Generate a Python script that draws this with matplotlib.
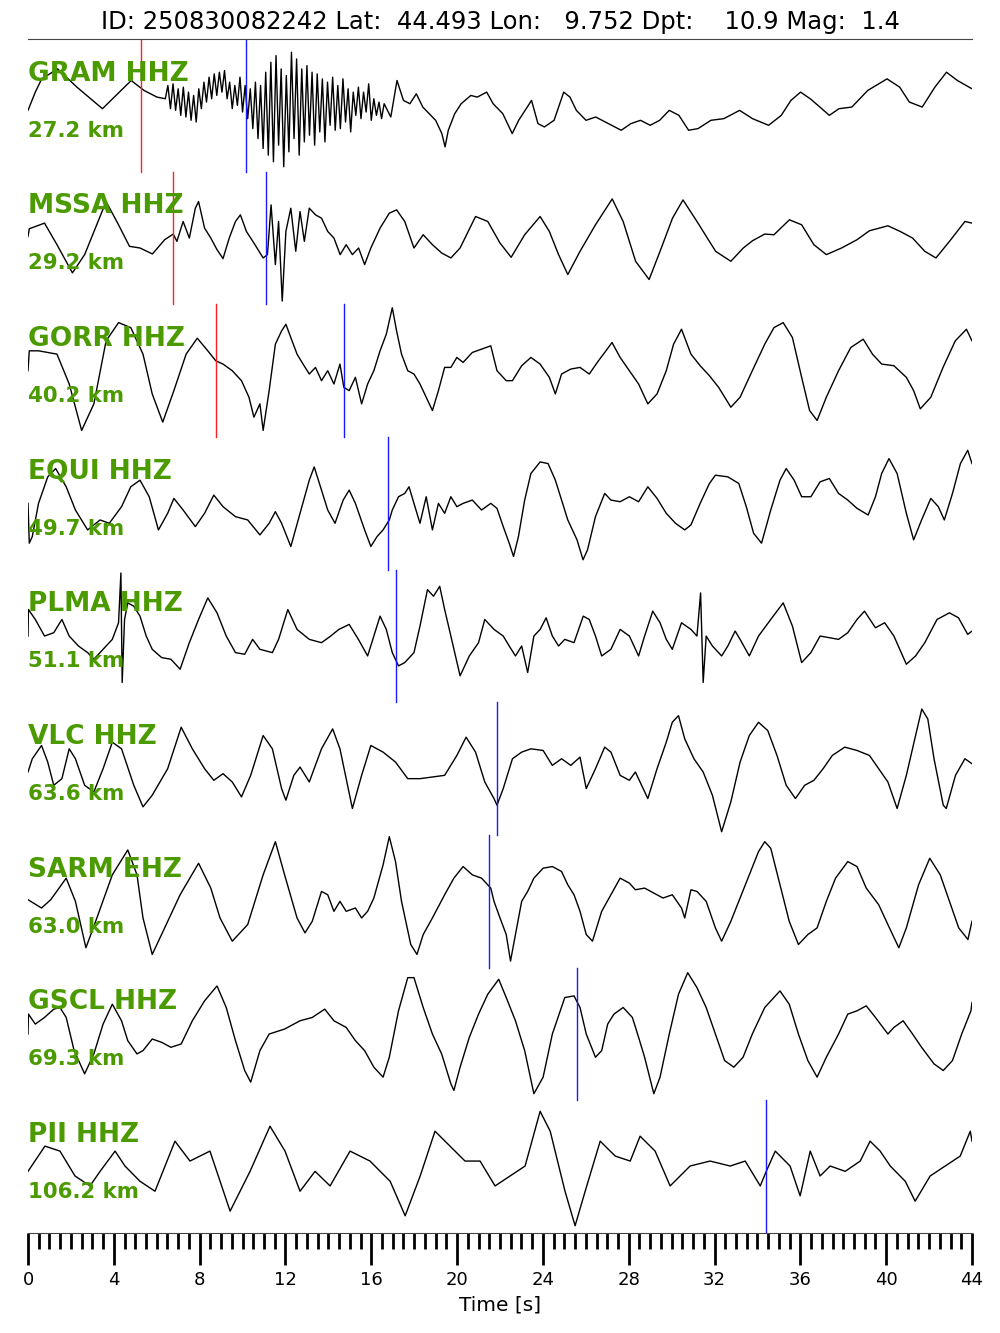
import numpy as np
import matplotlib.pyplot as plt

# event header
event_id = "250830082242"
lat, lon, depth, mag = 44.493, 9.752, 10.9, 1.4

stations = ["GRAM HHZ", "MSSA HHZ", "GORR HHZ", "EQUI HHZ", "PLMA HHZ",
            "VLC HHZ", "SARM EHZ", "GSCL HHZ", "PII HHZ"]
distances = [27.2, 29.2, 40.2, 49.7, 51.1, 63.6, 63.0, 69.3, 106.2]
p_picks = [5.27, 6.77, 8.75, None, None, None, None, None, None]
s_picks = [10.16, 11.07, 14.72, 16.80, 17.17, 21.87, 21.48, 25.60, 34.41]

# traces: (time [s], amplitude [scaled counts])
gram = [(0, -15), (0.34, 40), (0.64, 80), (1.38, 110), (2.28, 55), (3.47, -10),
        (4.81, 75), (5.41, 45), (6.01, 25), (6.40, 20), (6.52, 60), (6.64, -10),
        (6.76, 65), (6.88, -15), (7.00, 50), (7.12, -30), (7.24, 55), (7.36, -35),
        (7.48, 40), (7.60, -45), (7.72, 30), (7.84, -50), (7.96, 50), (8.08, -10),
        (8.20, 70), (8.32, 10), (8.44, 85), (8.56, 20), (8.68, 95), (8.80, 30),
        (8.92, 100), (9.04, 40), (9.16, 105), (9.28, 20), (9.40, 70), (9.52, -10),
        (9.64, 60), (9.76, 0), (9.88, 85), (10.00, -20), (10.12, 60), (10.24, -40),
        (10.36, 50), (10.48, -70), (10.60, 70), (10.72, -100), (10.84, 60),
        (10.96, -130), (11.08, 100), (11.20, -150), (11.32, 130), (11.44, -170),
        (11.56, 150), (11.68, -120), (11.80, 110), (11.92, -185), (12.04, 90),
        (12.16, -140), (12.28, 160), (12.40, -100), (12.52, 140), (12.64, -150),
        (12.76, 110), (12.88, -110), (13.00, 120), (13.12, -90), (13.24, 100),
        (13.36, -120), (13.48, 95), (13.60, -80), (13.72, 80), (13.84, -110),
        (13.96, 70), (14.08, -60), (14.20, 85), (14.32, -75), (14.44, 60),
        (14.56, -70), (14.68, 80), (14.80, -50), (14.92, 50), (15.04, -80),
        (15.16, 40), (15.28, -30), (15.40, 55), (15.52, -40), (15.64, 40),
        (15.76, -20), (15.88, 65), (16.00, -45), (16.12, 20), (16.24, -30),
        (16.36, 10), (16.48, -40), (16.60, 5), (16.91, -35),
        (17.20, 75), (17.50, 15), (17.80, 5), (18.10, 35), (18.40, -5),
        (18.70, -25), (19.00, -45), (19.29, -85), (19.44, -125), (19.59, -75),
        (19.89, -25), (20.19, 5), (20.64, 30), (20.94, 25), (21.38, 40),
        (21.68, 5), (22.13, -25), (22.57, -85), (22.87, -45), (23.17, -15),
        (23.47, 15), (23.77, -55), (24.07, -65), (24.52, -45), (24.97, 40),
        (25.26, 25), (25.56, -15), (26.01, -45), (26.46, -35), (27.05, -55),
        (27.65, -75), (28.10, -55), (28.55, -45), (29.00, -60), (29.44, -45),
        (29.89, -15), (30.34, -30), (30.79, -75), (31.23, -70), (31.83, -45),
        (32.43, -40), (33.17, -15), (33.77, -40), (34.52, -60), (35.11, -30),
        (35.56, 15), (36.01, 40), (36.46, 20), (36.91, -5), (37.35, -30),
        (37.80, -10), (38.40, -5), (39.14, 45), (40.04, 80), (40.63, 55),
        (41.08, 10), (41.68, -5), (42.27, 55), (42.81, 100), (43.32, 75), (44.0, 50)]

mssa = [(0, 5), (0.06, 28), (0.77, 45), (1.35, -20), (2.07, -105), (2.64, -50),
        (3.64, 110), (4.22, 40), (4.73, -25), (5.22, -30), (5.80, -48), (6.37, -5),
        (6.77, 12), (6.94, -10), (7.23, 50), (7.52, 0), (7.80, 90), (7.95, 110),
        (8.23, 30), (8.52, 0), (8.81, -35), (9.09, -62), (9.38, 0), (9.67, 50),
        (9.90, 70), (10.18, 20), (10.53, -15), (10.96, -60), (11.16, -50),
        (11.33, 100), (11.53, -80), (11.68, 50), (11.85, -190), (12.02, 20),
        (12.25, 90), (12.48, -40), (12.68, 80), (12.88, -10), (13.11, 90),
        (13.40, 70), (13.68, 60), (13.97, 20), (14.26, 0), (14.55, -50),
        (14.83, -20), (15.12, -50), (15.41, -30), (15.69, -80), (15.98, -30),
        (16.41, 30), (16.84, 75), (17.18, 85), (17.56, 50), (17.99, -30),
        (18.42, 10), (18.85, -20), (19.28, -45), (19.71, -60), (20.14, -30),
        (20.86, 65), (21.43, 50), (22.00, -15), (22.52, -58), (23.15, 10),
        (23.87, 65), (24.30, 20), (24.73, -50), (25.16, -110), (25.73, -40),
        (26.45, 40), (27.23, 118), (27.74, 50), (28.32, -70), (28.95, -125),
        (29.46, -40), (30.04, 60), (30.53, 115), (31.18, 50), (32.05, -40),
        (32.76, -70), (33.34, -30), (33.77, -8), (34.34, 12), (34.77, 10),
        (35.49, 55), (36.06, 40), (36.63, -20), (37.21, -50), (37.92, -30),
        (38.64, -5), (39.22, 22), (40.08, 37), (40.65, 20), (41.23, 0),
        (41.80, -40), (42.32, -60), (42.95, -10), (43.67, 50), (44.0, 45)]

gorr = [(0, 0), (0.06, 60), (0.49, 60), (0.92, 55), (1.35, 50), (1.92, -40),
        (2.50, -180), (3.07, -100), (3.64, 90), (4.22, 145), (4.79, 130),
        (5.36, 50), (5.79, -70), (6.28, -155), (6.80, -60), (7.37, 50), (7.89, 98),
        (8.38, 60), (8.75, 30), (9.09, 20), (9.52, 0), (9.95, -30), (10.30, -80),
        (10.53, -140), (10.81, -100), (10.96, -180), (11.24, -60), (11.53, 80),
        (11.82, 120), (12.02, 140), (12.25, 100), (12.54, 50), (12.82, 20),
        (13.11, -10), (13.40, 10), (13.68, -30), (13.97, 0), (14.26, -40),
        (14.54, 20), (14.72, -50), (14.97, -60), (15.26, -20), (15.55, -100),
        (15.83, -40), (16.12, 0), (16.41, 60), (16.70, 110), (16.98, 190),
        (17.18, 120), (17.41, 50), (17.70, 0), (17.99, -10), (18.27, -40),
        (18.56, -80), (18.85, -120), (19.13, -60), (19.42, 10), (19.71, 10),
        (19.99, 40), (20.28, 25), (20.71, 55), (21.14, 65), (21.57, 75),
        (21.86, 0), (22.29, -30), (22.58, -30), (23.01, 15), (23.44, 40),
        (23.87, 20), (24.30, -20), (24.58, -70), (24.87, -10), (25.30, 5),
        (25.73, 10), (26.16, -10), (26.59, 30), (26.88, 55), (27.22, 85),
        (27.60, 40), (28.03, 0), (28.46, -40), (28.89, -100), (29.32, -70),
        (29.75, 0), (30.09, 80), (30.46, 125), (30.90, 50), (31.33, 15),
        (31.76, -15), (32.19, -50), (32.76, -110), (33.19, -80), (33.76, 0),
        (34.34, 80), (34.77, 130), (35.20, 145), (35.63, 100), (36.06, -20),
        (36.43, -120), (36.78, -150), (37.21, -80), (37.78, 0), (38.35, 70),
        (38.93, 95), (39.36, 50), (39.79, 20), (40.36, 15), (40.94, -20),
        (41.28, -60), (41.59, -115), (42.08, -80), (42.65, 10), (43.22, 90),
        (43.74, 125), (44.0, 90)]

equi = [(0, 0), (0.06, -120), (0.20, -100), (0.49, 0), (0.92, 80), (1.29, 105),
        (1.78, 50), (2.21, -20), (2.78, -80), (3.36, -50), (3.79, -60), (4.36, -10),
        (4.79, 50), (5.22, 70), (5.65, 20), (6.08, -80), (6.51, -30), (6.80, 15),
        (7.23, -20), (7.80, -70), (8.23, -30), (8.66, 25), (9.09, -10), (9.67, -40),
        (10.24, -50), (10.81, -95), (11.24, -60), (11.53, -25), (11.82, -60),
        (12.25, -130), (12.68, -30), (13.11, 70), (13.34, 110), (13.68, 40),
        (13.97, -20), (14.31, -60), (14.69, 10), (14.97, 40), (15.26, 0),
        (15.69, -80), (15.98, -130), (16.27, -100), (16.55, -80), (16.84, -50),
        (16.98, -20), (17.27, 20), (17.56, 30), (17.76, 50), (17.99, 0),
        (18.27, -60), (18.56, 20), (18.85, -80), (19.13, 0), (19.42, -30),
        (19.71, 20), (19.99, -10), (20.28, 0), (20.71, 10), (21.14, -20),
        (21.57, 0), (21.86, -15), (22.15, -70), (22.43, -120), (22.63, -160),
        (22.86, -100), (23.15, 10), (23.44, 90), (23.87, 125), (24.24, 120),
        (24.58, 70), (24.87, 10), (25.16, -50), (25.59, -110), (25.87, -170),
        (26.08, -140), (26.45, -40), (26.88, 30), (27.17, 10), (27.60, 5),
        (28.03, 20), (28.46, 5), (28.89, 50), (29.32, 15), (29.75, -30),
        (30.18, -60), (30.61, -80), (30.90, -65), (31.33, 0), (31.76, 60),
        (32.04, 85), (32.62, 80), (33.13, 60), (33.48, -10), (33.82, -90),
        (34.19, -120), (34.62, -20), (35.05, 70), (35.34, 105), (35.71, 70),
        (36.06, 20), (36.49, 20), (36.92, 65), (37.35, 75), (37.78, 30),
        (38.21, 10), (38.64, -15), (39.16, -35), (39.50, 20), (39.79, 90),
        (40.13, 135), (40.51, 90), (40.94, -30), (41.28, -110), (41.65, -50),
        (42.08, 15), (42.43, -10), (42.71, -50), (43.09, 30), (43.46, 120),
        (43.80, 160), (44.0, 120)]

plma = [(0, 0), (0.02, 80), (0.34, 50), (0.77, 0), (1.20, 10), (1.58, 50),
        (1.92, 0), (2.35, -30), (2.78, -50), (3.07, -70), (3.50, -40), (3.93, -10),
        (4.22, 40), (4.33, 190), (4.39, -140), (4.50, 50), (4.65, 100), (4.93, 90),
        (5.22, 60), (5.51, 0), (5.79, -40), (6.23, -65), (6.66, -70), (7.09, -100),
        (7.52, -20), (7.95, 50), (8.38, 115), (8.81, 70), (9.24, 0), (9.67, -50),
        (10.10, -55), (10.47, -10), (10.81, -40), (11.39, -50), (11.68, -10),
        (12.11, 80), (12.54, 20), (13.11, -10), (13.68, -20), (14.11, 0),
        (14.49, 20), (14.97, 35), (15.40, -10), (15.83, -60), (16.12, 0),
        (16.41, 60), (16.70, 20), (16.98, -50), (17.27, -90), (17.56, -80),
        (17.99, -50), (18.27, 30), (18.62, 140), (18.90, 120), (19.19, 150),
        (19.42, 80), (19.71, 0), (20.14, -120), (20.57, -60), (21.00, -20),
        (21.29, 50), (21.72, 20), (22.15, 0), (22.43, -30), (22.72, -60),
        (23.01, -30), (23.29, -110), (23.58, 0), (23.87, 20), (24.15, 55),
        (24.44, 0), (24.73, -30), (25.02, -10), (25.45, -20), (25.88, 60),
        (26.16, 50), (26.45, 0), (26.74, -60), (27.17, -40), (27.60, 20),
        (28.03, 0), (28.46, -60), (28.74, 0), (29.12, 75), (29.46, 40),
        (29.75, -10), (30.03, -40), (30.46, 40), (30.90, 20), (31.18, 0),
        (31.35, 130), (31.47, -140), (31.61, 0), (31.90, -30), (32.33, -60),
        (32.62, -30), (32.96, 15), (33.19, -10), (33.62, -60), (34.05, 0),
        (34.62, 50), (35.20, 100), (35.63, 30), (36.06, -80), (36.49, -50),
        (36.92, 0), (37.35, -5), (37.78, -10), (38.21, 10), (38.64, 50),
        (38.99, 75), (39.50, 25), (39.93, 40), (40.36, 0), (40.94, -85),
        (41.37, -60), (41.80, -20), (42.37, 50), (42.95, 70), (43.37, 55),
        (43.80, 5), (44.0, 15)]

vlc = [(0, -10), (0.20, 30), (0.63, 70), (0.92, 20), (1.20, -50), (1.58, -30),
       (1.92, 60), (2.21, 30), (2.64, -50), (3.07, -70), (3.50, 0), (3.93, 80),
       (4.36, 60), (4.93, -50), (5.36, -115), (5.79, -80), (6.51, 0), (7.14, 125),
       (7.66, 60), (8.23, 0), (8.66, -35), (9.09, -15), (9.52, -40), (9.95, -85),
       (10.38, -20), (10.96, 100), (11.39, 60), (11.82, -60), (12.02, -95),
       (12.39, -20), (12.68, 5), (13.11, -40), (13.68, 60), (14.20, 120),
       (14.54, 60), (14.83, -30), (15.12, -120), (15.55, -20), (15.98, 70),
       (16.55, 50), (17.13, 20), (17.70, -30), (18.27, -30), (18.85, -25),
       (19.42, -20), (19.99, 40), (20.42, 95), (20.86, 50), (21.29, -40),
       (21.72, -90), (21.86, -110), (22.15, -60), (22.58, 30), (23.01, 50),
       (23.44, 60), (24.01, 55), (24.44, 10), (24.87, 30), (25.30, 10),
       (25.73, 35), (26.02, -60), (26.45, 0), (26.88, 65), (27.17, 50),
       (27.60, -20), (28.03, -35), (28.31, -10), (28.60, -50), (28.89, -90),
       (29.32, 0), (29.75, 80), (30.03, 140), (30.32, 160), (30.61, 90),
       (31.04, 30), (31.47, -10), (31.90, -80), (32.33, -190), (32.76, -100),
       (33.19, 20), (33.62, 100), (34.05, 140), (34.48, 115), (34.91, 40),
       (35.34, -50), (35.77, -90), (36.20, -50), (36.63, -35), (37.06, 0),
       (37.49, 40), (38.07, 65), (38.64, 55), (39.22, 40), (39.65, 0),
       (40.08, -40), (40.51, -120), (40.94, -20), (41.37, 100), (41.66, 180),
       (41.94, 150), (42.23, 30), (42.66, -110), (42.80, -120), (43.23, -20),
       (43.67, 30), (44.0, 15)]

sarm = [(0, 5), (0.63, -20), (1.06, 5), (1.78, 70), (2.21, 0), (2.70, -140),
        (3.21, -50), (3.93, 80), (4.65, 155), (5.08, 80), (5.36, -50), (5.79, -160),
        (6.37, -80), (7.09, 20), (7.95, 115), (8.52, 40), (8.95, -50), (9.52, -120),
        (10.24, -70), (10.96, 80), (11.53, 180), (11.96, 80), (12.54, -50),
        (12.91, -95), (13.25, -60), (13.68, 30), (13.97, 20), (14.26, -30),
        (14.54, 0), (14.83, -30), (15.26, -20), (15.55, -50), (15.83, -30),
        (16.12, 10), (16.55, 110), (16.84, 195), (17.13, 120), (17.41, 0),
        (17.84, -130), (18.13, -160), (18.42, -100), (18.85, -50), (19.42, 20),
        (19.85, 70), (20.28, 105), (20.71, 80), (21.14, 70), (21.57, 40),
        (21.72, 0), (22.00, -50), (22.29, -100), (22.49, -180), (22.72, -100),
        (23.01, 0), (23.29, 30), (23.58, 70), (24.01, 100), (24.44, 105),
        (24.87, 90), (25.16, 50), (25.45, 20), (25.73, -30), (26.02, -100),
        (26.31, -120), (26.74, -30), (27.17, 20), (27.60, 70), (28.03, 55),
        (28.31, 35), (28.74, 40), (29.17, 25), (29.60, 10), (30.03, 20),
        (30.46, -20), (30.61, -50), (30.90, 35), (31.18, 30), (31.61, 0),
        (32.04, -80), (32.33, -120), (32.76, -60), (33.19, 10), (33.62, 80),
        (34.05, 150), (34.34, 180), (34.62, 160), (35.05, 50), (35.48, -60),
        (35.91, -130), (36.35, -100), (36.78, -80), (37.21, 0), (37.64, 70),
        (38.21, 120), (38.64, 105), (39.07, 40), (39.65, -10), (40.08, -70),
        (40.59, -140), (40.94, -80), (41.51, 50), (42.03, 130), (42.52, 80),
        (42.95, 0), (43.38, -80), (43.81, -115), (44.0, -60)]

gscl = [(0, 0), (0.02, 60), (0.34, 30), (0.77, 50), (1.20, 75), (1.49, 80),
        (1.78, 50), (2.15, -50), (2.64, -120), (3.07, -60), (3.50, 30), (3.93, 90),
        (4.36, 40), (4.65, -20), (5.08, -60), (5.36, -50), (5.79, -15), (6.23, -25),
        (6.66, -40), (7.14, -30), (7.66, 40), (8.23, 100), (8.81, 145), (9.24, 80),
        (9.67, -20), (10.10, -110), (10.38, -145), (10.81, -50), (11.24, 0),
        (11.96, 15), (12.68, 40), (13.25, 50), (13.83, 75), (14.26, 40),
        (14.83, 20), (15.26, -20), (15.69, -50), (16.12, -100), (16.55, -130),
        (16.84, -70), (17.27, 70), (17.70, 170), (17.99, 170), (18.42, 80),
        (18.85, 0), (19.28, -60), (19.71, -150), (19.85, -170), (20.14, -100),
        (20.57, -10), (21.00, 60), (21.43, 120), (21.94, 165), (22.29, 110),
        (22.72, 40), (23.15, -50), (23.58, -180), (24.01, -130), (24.44, 0),
        (25.02, 110), (25.45, 115), (25.73, 80), (26.02, 0), (26.45, -70),
        (26.74, -50), (27.02, 30), (27.31, 60), (27.74, 80), (28.17, 50),
        (28.46, -10), (28.74, -70), (29.17, -180), (29.46, -130), (29.89, 0),
        (30.32, 120), (30.75, 185), (31.18, 140), (31.61, 80), (32.04, 0),
        (32.47, -80), (32.90, -100), (33.33, -70), (33.76, 0), (34.34, 80),
        (35.05, 130), (35.48, 90), (35.91, 0), (36.35, -80), (36.78, -130),
        (37.21, -70), (37.78, 0), (38.21, 60), (38.64, 70), (39.07, 85),
        (39.50, 50), (40.08, 0), (40.36, 20), (40.79, 40), (41.23, 0),
        (41.65, -40), (42.23, -90), (42.66, -110), (43.09, -80), (43.52, 0),
        (43.95, 70), (44.0, 95)]

pii = [(0, -14), (0.79, 62), (1.49, 47), (2.19, -28), (2.89, -58), (3.36, -14),
       (4.06, 47), (4.52, 2), (5.22, -44), (5.92, -74), (6.85, 77), (7.55, 17),
       (8.48, 47), (9.42, -134), (10.35, -14), (11.28, 122), (11.98, 47),
       (12.68, -74), (13.38, -14), (14.08, -58), (15.01, 47), (15.94, 17),
       (16.88, -44), (17.58, -148), (18.28, -28), (18.97, 107), (19.67, 62),
       (20.37, 17), (21.07, 17), (21.77, -58), (22.47, -28), (23.17, 2),
       (23.87, 167), (24.34, 107), (25.03, -74), (25.50, -178), (25.97, -74),
       (26.67, 77), (27.37, 32), (28.07, 17), (28.53, 92), (29.23, 47),
       (29.93, -58), (30.86, 2), (31.79, 17), (32.73, 2), (33.43, 17),
       (34.13, -58), (34.41, -14), (34.83, 47), (35.52, 2), (35.99, -88),
       (36.46, 47), (36.92, -28), (37.39, 2), (38.09, -14), (38.79, 17),
       (39.25, 77), (39.72, 47), (40.19, 2), (40.89, -44), (41.35, -104),
       (42.05, -28), (42.75, 2), (43.45, 32), (43.92, 107), (44.0, 77)]

traces = [gram, mssa, gorr, equi, plma, vlc, sarm, gscl, pii]

green = '#4a9a00'
band = 400.0  # vertical space given to each trace

fig = plt.figure(figsize=(10, 13.33), dpi=100)
ax = fig.add_axes([0.028, 0.075, 0.944, 0.8957])

for i, tr in enumerate(traces):
    off = -i * band
    t = np.array([p[0] for p in tr])
    a = np.array([p[1] for p in tr])
    ax.plot(t, off + a, color='k', lw=1.0)
    if p_picks[i] is not None:
        ax.plot([p_picks[i], p_picks[i]], [off - band / 2, off + band / 2], color='#ff2020', lw=1.0)
    ax.plot([s_picks[i], s_picks[i]], [off - band / 2, off + band / 2], color='#1a1aff', lw=1.0)
    ax.text(0.0, off + band / 2 - 0.26 * band, stations[i], color=green, fontsize=19,
            fontweight='bold', va='center', ha='left')
    ax.text(0.0, off + band / 2 - 0.69 * band, '%.1f km' % distances[i], color=green,
            fontsize=15.3, fontweight='bold', va='center', ha='left')

ax.set_xlim(0, 44)
ax.set_ylim(-(len(traces) - 0.5) * band, band / 2)
ax.spines['left'].set_visible(False)
ax.spines['right'].set_visible(False)
ax.spines['top'].set_color('#444444')
ax.spines['bottom'].set_color('#444444')
ax.set_yticks([])
ax.set_xticks(np.arange(0, 45, 4))
ax.set_xticks(np.arange(0, 44.01, 0.5), minor=True)
ax.tick_params(axis='x', which='major', length=23, width=2, labelsize=13, pad=4)
ax.tick_params(axis='x', which='minor', length=11.5, width=2)
ax.set_xlabel('Time [s]', fontsize=14.5, labelpad=5)

fig.text(0.5, 1 - 22 / 1333,
         'ID: %s Lat: %7.3f Lon: %7.3f Dpt: %7.1f Mag: %4.1f' % (event_id, lat, lon, depth, mag),
         ha='center', va='center', fontsize=17.5)

fig.savefig('out.png', dpi=100)
